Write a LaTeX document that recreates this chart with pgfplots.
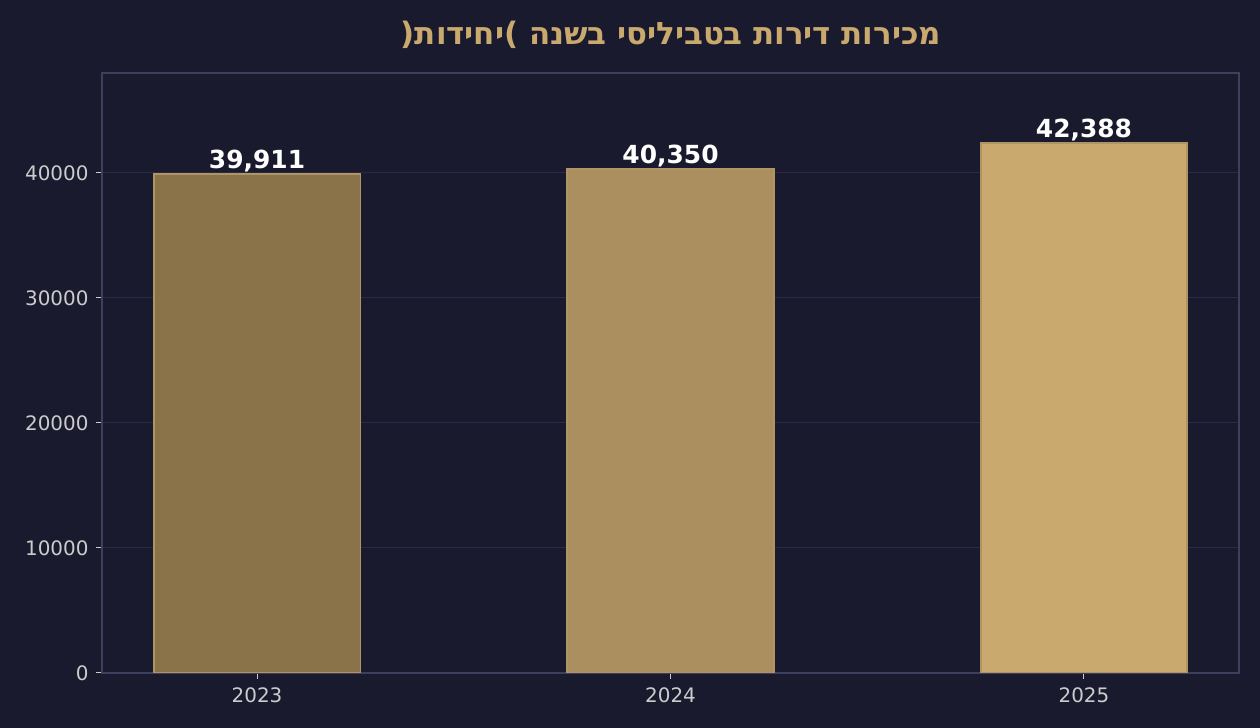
\documentclass[border=0pt]{standalone}
\usepackage{pgfplots}
\pgfplotsset{compat=1.18}
\usepackage{fontspec}
\setmainfont{DejaVu Sans}
\newfontfamily\hebfont[Script=Hebrew]{DejaVu Sans}
\TeXXeTstate=1
\definecolor{bg}{HTML}{1A1A2E}
\definecolor{gold}{HTML}{C9A96E}
\definecolor{barA}{HTML}{8B7349}
\definecolor{barB}{HTML}{AB8F5F}
\definecolor{barC}{HTML}{C9A96E}
\definecolor{spine}{HTML}{3E3E5E}
\definecolor{gridc}{HTML}{2A2A42}
\definecolor{tickc}{HTML}{CCCCCC}
\begin{document}
\begin{tikzpicture}[x=1bp,y=1bp]
\fill[bg] (0,0) rectangle (1260,728);
\node[text=gold, font={\hebfont\fontsize{31}{36}\selectfont\bfseries}] at (671,693) {\beginR מכירות דירות בטביליסי בשנה )יחידות(\endR};
\begin{axis}[
  at={(102bp,55bp)}, anchor=south west,
  width=1137bp, height=600bp, scale only axis,
  xmin=-0.375, xmax=2.375, ymin=0, ymax=48000,
  xtick={0,1,2}, xticklabels={2023,2024,2025},
  ytick={0,10000,20000,30000,40000},
  /pgf/number format/assume math mode=true,
  /pgf/number format/set thousands separator={},
  scaled y ticks=false,
  tick label style={font=\fontsize{20}{24}\selectfont, text=tickc},
  xticklabel style={yshift=-5bp},
  yticklabel style={xshift=-4bp},
  axis line style={spine, line width=1.2bp},
  tick style={tickc, line width=1bp},
  major tick length=6bp,
  tick align=outside,
  xtick pos=bottom, ytick pos=left,
  ymajorgrids, major grid style={gridc, line width=1bp},
  axis on top=false,
  ybar, bar width=0.5, bar shift=0pt,
  nodes near coords={\pgfmathprintnumber[fixed,precision=0,1000 sep={,}]{\pgfplotspointmeta}},
  nodes near coords style={font=\fontsize{25}{30}\selectfont\bfseries, text=white, /pgf/number format/assume math mode=true, inner sep=2bp, anchor=south, yshift=-1bp},
]
\addplot[fill=barA, draw=gold!85!bg, line width=1.8bp] coordinates {(0,39911)};
\addplot[fill=barB, draw=gold!85!bg, line width=1.8bp] coordinates {(1,40350)};
\addplot[fill=barC, draw=gold!85!bg, line width=1.8bp] coordinates {(2,42388)};
\end{axis}
\end{tikzpicture}
\end{document}
